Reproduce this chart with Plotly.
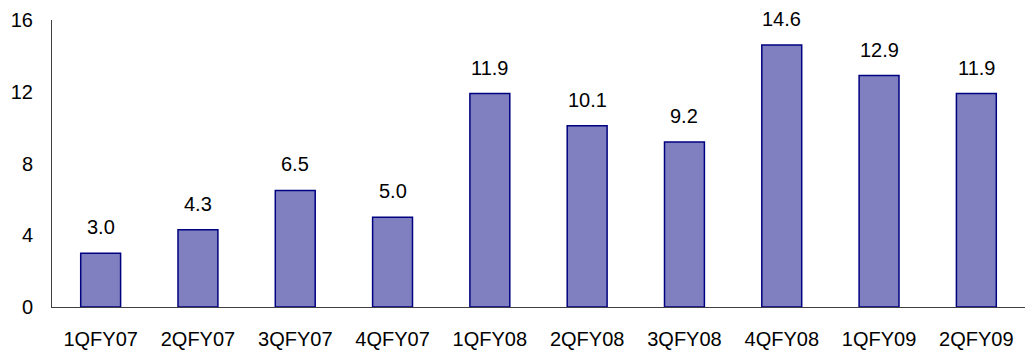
import plotly.graph_objects as go

categories = ["1QFY07", "2QFY07", "3QFY07", "4QFY07", "1QFY08",
              "2QFY08", "3QFY08", "4QFY08", "1QFY09", "2QFY09"]
values = [3.0, 4.3, 6.5, 5.0, 11.9, 10.1, 9.2, 14.6, 12.9, 11.9]
y_ticks = [0, 4, 8, 12, 16]

FONT = "Liberation Sans, Arial, sans-serif"
FS = 20

fig = go.Figure()
fig.add_trace(go.Bar(
    x=categories, y=values,
    marker=dict(color="#8080C0", line=dict(color="#000080", width=1.5)),
    width=0.41,
    hoverinfo="x+y",
))

for c, v in zip(categories, values):
    fig.add_annotation(x=c, y=v, text=f"{v:.1f}", showarrow=False,
                       yanchor="middle", yshift=26,
                       font=dict(family=FONT, size=FS, color="#000000"))

fig.update_layout(
    width=1036, height=353,
    margin=dict(l=52, r=11, t=20, b=46),
    paper_bgcolor="white", plot_bgcolor="white",
    showlegend=False,
    bargap=0.59,
    font=dict(family=FONT, size=FS, color="#000000"),
)
fig.update_xaxes(
    showline=True, linecolor="#404040", linewidth=1, automargin=False,
    showgrid=False, ticks="", ticklabelstandoff=14,
    tickfont=dict(family=FONT, size=FS, color="#000000"),
)
fig.update_yaxes(
    range=[0, 16], tickvals=y_ticks, showline=True, linecolor="#404040",
    linewidth=1, showgrid=False, zeroline=False, ticks="", automargin=False,
    ticklabelstandoff=14,
    tickfont=dict(family=FONT, size=FS, color="#000000"),
)

fig.write_html("out.html")
